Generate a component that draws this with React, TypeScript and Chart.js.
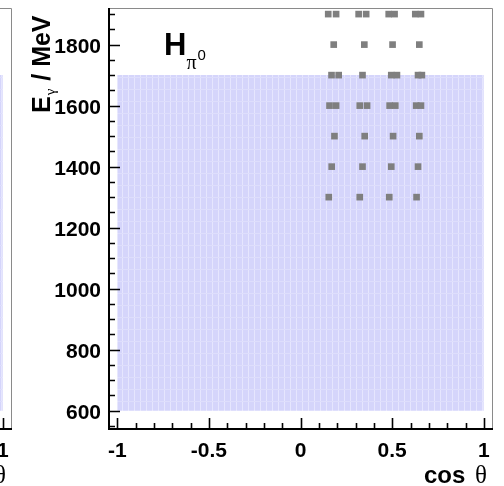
import React, { useEffect, useRef } from "react";
import { Chart, registerables } from "chart.js";
Chart.register(...registerables);

// ---------- data ----------
const cosAt1300 = [0.154, 0.323, 0.484, 0.633];
const cosAt1400 = [0.17, 0.338, 0.495, 0.641];
const cosAt1500 = [0.185, 0.35, 0.505, 0.648];
const cosAt1600 = [0.158, 0.194, 0.323, 0.363, 0.486, 0.517, 0.631, 0.657];
const cosAt1700 = [0.169, 0.208, 0.338, 0.495, 0.526, 0.641, 0.662];
const cosAt1800 = [0.181, 0.348, 0.502, 0.648];
const cosAt1900 = [0.151, 0.194, 0.317, 0.358, 0.481, 0.513, 0.626, 0.657];
const energyRows = [1300, 1400, 1500, 1600, 1700, 1800, 1900];
const cosRows = [cosAt1300, cosAt1400, cosAt1500, cosAt1600, cosAt1700, cosAt1800, cosAt1900];

// kinematic coverage band
const bandCos = [-1, 1];
const bandEMin = 600;
const bandEMax = 1700;

// axes
const xRange = [-1.045, 1.05];
const yRange = [540, 1920];
const xMajorTicks = [-1, -0.5, 0, 0.5, 1];
const xTickLabels = ["-1", "-0.5", "0", "0.5", "1"];
const xMinorTicks = [-0.9, -0.8, -0.7, -0.6, -0.4, -0.3, -0.2, -0.1, 0.1, 0.2, 0.3, 0.4, 0.6, 0.7, 0.8, 0.9];
const yMajorTicks = [600, 800, 1000, 1200, 1400, 1600, 1800];
const yTickLabels = ["600", "800", "1000", "1200", "1400", "1600", "1800"];
const yMinorTicks = [550, 650, 700, 750, 850, 900, 950, 1050, 1100, 1150, 1250, 1300, 1350, 1450, 1500, 1550, 1650, 1700, 1750, 1850, 1900];

const SANS = "'Liberation Sans', Arial, Helvetica, sans-serif";
const SERIF = "'Liberation Serif', 'Times New Roman', serif";

function makeBandPattern(): CanvasPattern | string {
  const c = document.createElement("canvas");
  c.width = 6;
  c.height = 12;
  const g = c.getContext("2d");
  if (!g) return "rgb(216,216,251)";
  g.fillStyle = "rgb(213,213,251)";
  g.fillRect(0, 0, 6, 12);
  g.fillStyle = "rgb(230,230,254)";
  g.fillRect(2, 0, 1, 12);
  g.fillStyle = "rgb(222,222,252)";
  g.fillRect(0, 5, 6, 1);
  const p = g.createPattern(c, "repeat");
  return p || "rgb(216,216,251)";
}

const rootAxes = {
  id: "rootAxes",
  afterDraw(chart: any, _args: any, opts: any) {
    const { ctx, chartArea: a, scales } = chart;
    const x = scales.x;
    const y = scales.y;
    ctx.save();
    // thin grey frame (top/right)
    ctx.strokeStyle = "#8a8a8a";
    ctx.lineWidth = 1;
    ctx.beginPath();
    ctx.moveTo(a.left, a.top + 0.5);
    ctx.lineTo(a.right - 0.5, a.top + 0.5);
    ctx.lineTo(a.right - 0.5, a.bottom);
    ctx.stroke();
    // axes
    ctx.strokeStyle = "#000";
    ctx.lineWidth = 2;
    ctx.beginPath();
    ctx.moveTo(a.left, a.top);
    ctx.lineTo(a.left, a.bottom);
    ctx.lineTo(a.right, a.bottom);
    ctx.stroke();
    // ticks
    ctx.lineWidth = 1.6;
    ctx.beginPath();
    for (const v of yMajorTicks) {
      const p = Math.round(y.getPixelForValue(v)) + 0.5;
      ctx.moveTo(a.left, p);
      ctx.lineTo(a.left + 11, p);
    }
    for (const v of yMinorTicks) {
      const p = Math.round(y.getPixelForValue(v)) + 0.5;
      ctx.moveTo(a.left, p);
      ctx.lineTo(a.left + 6, p);
    }
    for (const v of xMajorTicks) {
      const p = Math.round(x.getPixelForValue(v)) + 0.5;
      ctx.moveTo(p, a.bottom);
      ctx.lineTo(p, a.bottom - 11);
    }
    for (const v of xMinorTicks) {
      const p = Math.round(x.getPixelForValue(v)) + 0.5;
      ctx.moveTo(p, a.bottom);
      ctx.lineTo(p, a.bottom - 6);
    }
    ctx.stroke();
    // tick labels
    ctx.fillStyle = "#000";
    ctx.font = `bold 21px ${SANS}`;
    ctx.textAlign = "right";
    ctx.textBaseline = "alphabetic";
    yMajorTicks.forEach((v, i) => {
      ctx.fillText(yTickLabels[i], a.left - 8, y.getPixelForValue(v) + 8);
    });
    ctx.textAlign = "center";
    xMajorTicks.forEach((v, i) => {
      ctx.fillText(xTickLabels[i], x.getPixelForValue(v), a.bottom + 28);
    });
    // x title
    ctx.textAlign = "left";
    ctx.font = `bold 24px ${SANS}`;
    ctx.fillText("cos", a.right - 69, a.bottom + 54);
    ctx.font = `25px ${SERIF}`;
    ctx.fillText("θ", a.right - 18, a.bottom + 54);
    // y title (rotated)
    ctx.save();
    ctx.translate(50, 113);
    ctx.rotate(-Math.PI / 2);
    ctx.font = `bold 25px ${SANS}`;
    ctx.fillText("E", 0, 0);
    let w = ctx.measureText("E").width;
    ctx.font = `15px ${SERIF}`;
    ctx.fillText("γ", w + 1, 5);
    w += ctx.measureText("γ").width + 2;
    ctx.font = `bold 25px ${SANS}`;
    ctx.fillText(" / MeV", w, 0);
    ctx.restore();
    // panel label
    if (opts && opts.label) {
      ctx.font = `bold 31px ${SANS}`;
      ctx.fillText("H", 164, 55);
      const hw = ctx.measureText("H").width;
      ctx.font = `20px ${SERIF}`;
      ctx.fillText("π", 164 + hw, 69);
      const pw = ctx.measureText("π").width;
      ctx.font = `15px ${SANS}`;
      ctx.fillText("0", 164 + hw + pw + 1, 60);
    }
    ctx.restore();
  },
};

function Panel({ left, showData }: { left: number; showData: boolean }) {
  const ref = useRef<HTMLCanvasElement>(null);
  useEffect(() => {
    if (!ref.current) return;
    const markerData: { x: number; y: number }[] = [];
    if (showData) {
      cosRows.forEach((row, i) => row.forEach((c) => markerData.push({ x: c, y: energyRows[i] })));
    }
    const chart = new Chart(ref.current, {
      type: "line",
      data: {
        datasets: [
          {
            label: "measured",
            data: markerData,
            showLine: false,
            pointStyle: "rect",
            pointRadius: 4.7,
            pointHoverRadius: 4.7,
            backgroundColor: "#7f7f7f",
            borderColor: "#7f7f7f",
            pointBorderWidth: 0,
            order: 1,
          } as any,
          {
            label: "coverage",
            data: bandCos.map((c) => ({ x: c, y: bandEMax })),
            showLine: true,
            borderWidth: 0,
            borderColor: "rgba(0,0,0,0)",
            pointRadius: 0,
            backgroundColor: makeBandPattern(),
            fill: { value: bandEMin },
            order: 2,
          } as any,
        ],
      },
      options: {
        responsive: false,
        animation: false,
        events: [],
        layout: { padding: { left: 109, right: 11, top: 8, bottom: 57 } },
        scales: {
          x: { type: "linear", min: xRange[0], max: xRange[1], display: false },
          y: { type: "linear", min: yRange[0], max: yRange[1], display: false },
        },
        plugins: {
          legend: { display: false },
          tooltip: { enabled: false },
          rootAxes: { label: showData },
        } as any,
      },
      plugins: [rootAxes],
    });
    return () => chart.destroy();
  }, [showData]);
  return (
    <div style={{ position: "absolute", left, top: 0, width: 504, height: 486 }}>
      <canvas ref={ref} width={504} height={486} style={{ width: 504, height: 486, display: "block" }} />
    </div>
  );
}

export default function App() {
  return (
    <div
      style={{
        position: "absolute",
        left: 0,
        top: 0,
        width: 504,
        height: 486,
        overflow: "hidden",
        background: "#fff",
      }}
    >
      <Panel left={-481} showData={false} />
      <Panel left={0} showData={true} />
    </div>
  );
}
